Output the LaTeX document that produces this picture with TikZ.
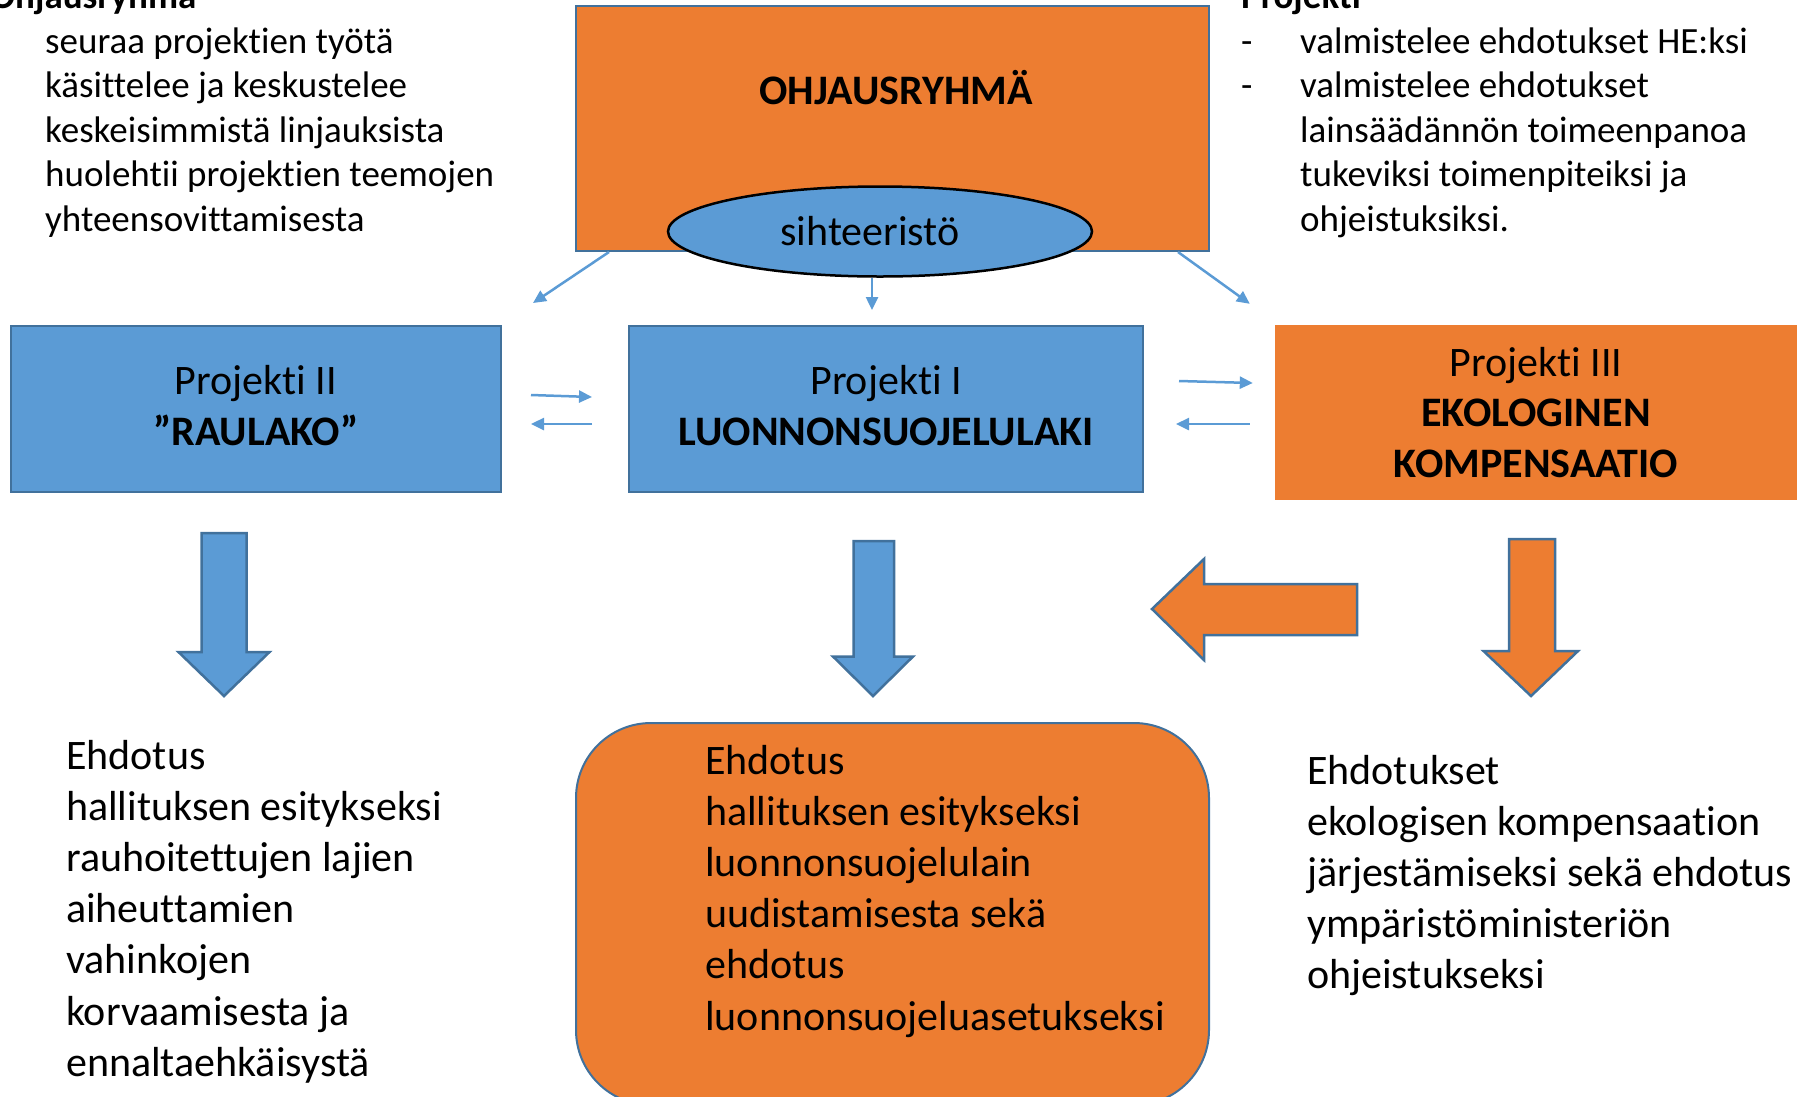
\documentclass[tikz,border=0pt]{standalone}
\usepackage{fontspec}
\setmainfont{Carlito}[Ligatures=NoCommon]
\usetikzlibrary{shapes,arrows.meta,positioning,calc}

\definecolor{boxorange}{HTML}{ED7D31}
\definecolor{boxblue}{HTML}{5B9BD5}
\definecolor{edgeblue}{HTML}{41719C}

\begin{document}
\begin{tikzpicture}[x=1pt, y=-1pt]

% Define styles
\tikzstyle{steer_box} = [rectangle, minimum width=633pt, minimum height=245pt, draw=edgeblue, fill=boxorange, line width=2pt, inner sep=0pt]
\tikzstyle{secretary} = [ellipse, minimum width=424pt, minimum height=90pt, draw=black, fill=boxblue, line width=2.5pt, inner sep=0pt, font=\fontsize{42}{51}\selectfont]
\tikzstyle{project_blue} = [rectangle, minimum height=166pt, align=center, draw=edgeblue, fill=boxblue, line width=2pt, inner sep=0pt, text depth=8pt, font=\fontsize{42}{51}\selectfont]
\tikzstyle{project_orange} = [rectangle, minimum height=175pt, align=center, fill=boxorange, inner sep=0pt, font=\fontsize{42}{50.5}\selectfont]
\tikzstyle{result_box} = [rectangle, rounded corners=75pt, minimum width=633pt, minimum height=382pt, draw=edgeblue, fill=boxorange, line width=2pt, inner sep=0pt]
\tikzstyle{small_note} = [anchor=base west, inner sep=0pt, font=\fontsize{37}{44.6}\selectfont]
\tikzstyle{big_note} = [anchor=base west, inner sep=0pt, font=\fontsize{42}{51.2}\selectfont]
\tikzstyle{link} = [draw=boxblue, line width=2.5pt, -{Triangle[length=13pt, width=12pt]}]
\tikzstyle{block_blue} = [draw=edgeblue, fill=boxblue, line width=2.5pt, line join=miter]
\tikzstyle{block_orange} = [draw=edgeblue, fill=boxorange, line width=2.5pt, line join=miter]

\useasboundingbox (0,0) rectangle (1806,1096);
\clip (0,0) rectangle (1806,1096);

% Ohjausryhma notes (top left)
\node (steer_head) [small_note, font=\fontsize{37}{44.6}\selectfont\bfseries] at (-10,8) {Ohjausryhmä};
\node (steer_notes) [small_note] at (45,53) {\begin{tabular}[t]{@{}l@{}}
seuraa projektien työtä \\
käsittelee ja keskustelee \\
keskeisimmistä linjauksista \\
huolehtii projektien teemojen \\
yhteensovittamisesta
\end{tabular}};

% Projekti notes (top right)
\node (proj_head) [small_note, font=\fontsize{37}{44.6}\selectfont\bfseries] at (1241,8) {Projekti};
\node (proj_notes) [small_note] at (1241,53) {\begin{tabular}[t]{@{}l@{}}
\makebox[59pt][l]{-}valmistelee ehdotukset HE:ksi \\
\makebox[59pt][l]{-}valmistelee ehdotukset \\
\hspace*{59pt}lainsäädännön toimeenpanoa \\
\hspace*{59pt}tukeviksi toimenpiteiksi ja \\
\hspace*{59pt}ohjeistuksiksi.
\end{tabular}};

% Steering group
\node (ohjaus) [steer_box] at (892.5,128.5) {};
\node (ohjaus_txt) [anchor=base, font=\fontsize{42}{51}\selectfont\bfseries] at (896,104) {OHJAUSRYHMÄ};
\node (sihteeristo) [secretary] at (880,231.5) {\hspace*{-20pt}sihteeristö};

% Projects
\node (p2) [project_blue, minimum width=490pt] at (256,409) {Projekti II\\\textbf{”RAULAKO”}};
\node (p1) [project_blue, minimum width=514pt] at (886,409) {Projekti I\\\textbf{LUONNONSUOJELULAKI}};
\node (p3) [project_orange, minimum width=522pt] at (1536,412.5) {Projekti III\\\textbf{EKOLOGINEN}\\\textbf{KOMPENSAATIO}};

% Steering links
\draw [link] ($(ohjaus.south west)+(34,0)$) -- ($(p2.north east)+(31,-22)$);
\draw [link] ($(sihteeristo.south)+(-8,0)$) -- ($(p1.north)+(-14,-15)$);
\draw [link] ($(ohjaus.south east)+(-32,0)$) -- ($(p3.north west)+(-25,-21)$);

% Links between projects
\draw [link] ($(p2.east)+(29,-14)$) -- ($(p1.west)+(-36,-12)$);
\draw [link] ($(p1.west)+(-36,15)$) -- ($(p2.east)+(29,15)$);
\draw [link] ($(p1.east)+(35,-28)$) -- ($(p3.west)+(-22,-29.5)$);
\draw [link] ($(p3.west)+(-25,11.5)$) -- ($(p1.east)+(32,15)$);

% Block arrows
\draw [block_blue] (201.5,533) -- (246.5,533) -- (246.5,652) -- (269.5,652) -- (224,696) -- (178.5,652) -- (201.5,652) -- cycle;
\draw [block_blue] (853.5,541) -- (894,541) -- (894,656.5) -- (913,656.5) -- (873,696) -- (833,656.5) -- (853.5,656.5) -- cycle;
\draw [block_orange] (1357,584) -- (1204,584) -- (1204,559) -- (1152,609) -- (1204,660) -- (1204,635) -- (1357,635) -- cycle;
\draw [block_orange] (1509,539) -- (1555,539) -- (1555,651) -- (1578,651) -- (1531,696) -- (1483.5,651) -- (1509,651) -- cycle;

% Results
\node (res_left) [big_note] at (66,769) {\begin{tabular}[t]{@{}l@{}}
Ehdotus \\
hallituksen esitykseksi \\
rauhoitettujen lajien \\
aiheuttamien \\
vahinkojen \\
korvaamisesta ja \\
ennaltaehkäisystä
\end{tabular}};

\node (result) [result_box] at (892.5,914) {};
\node (result_txt) [big_note] at (705,774) {\begin{tabular}[t]{@{}l@{}}
Ehdotus \\
hallituksen esitykseksi \\
luonnonsuojelulain \\
uudistamisesta sekä \\
ehdotus \\
luonnonsuojeluasetukseksi
\end{tabular}};

\node (res_right) [big_note] at (1307,784) {\begin{tabular}[t]{@{}l@{}}
Ehdotukset \\
ekologisen kompensaation \\
järjestämiseksi sekä ehdotus \\
ympäristöministeriön \\
ohjeistukseksi
\end{tabular}};

\end{tikzpicture}
\end{document}
